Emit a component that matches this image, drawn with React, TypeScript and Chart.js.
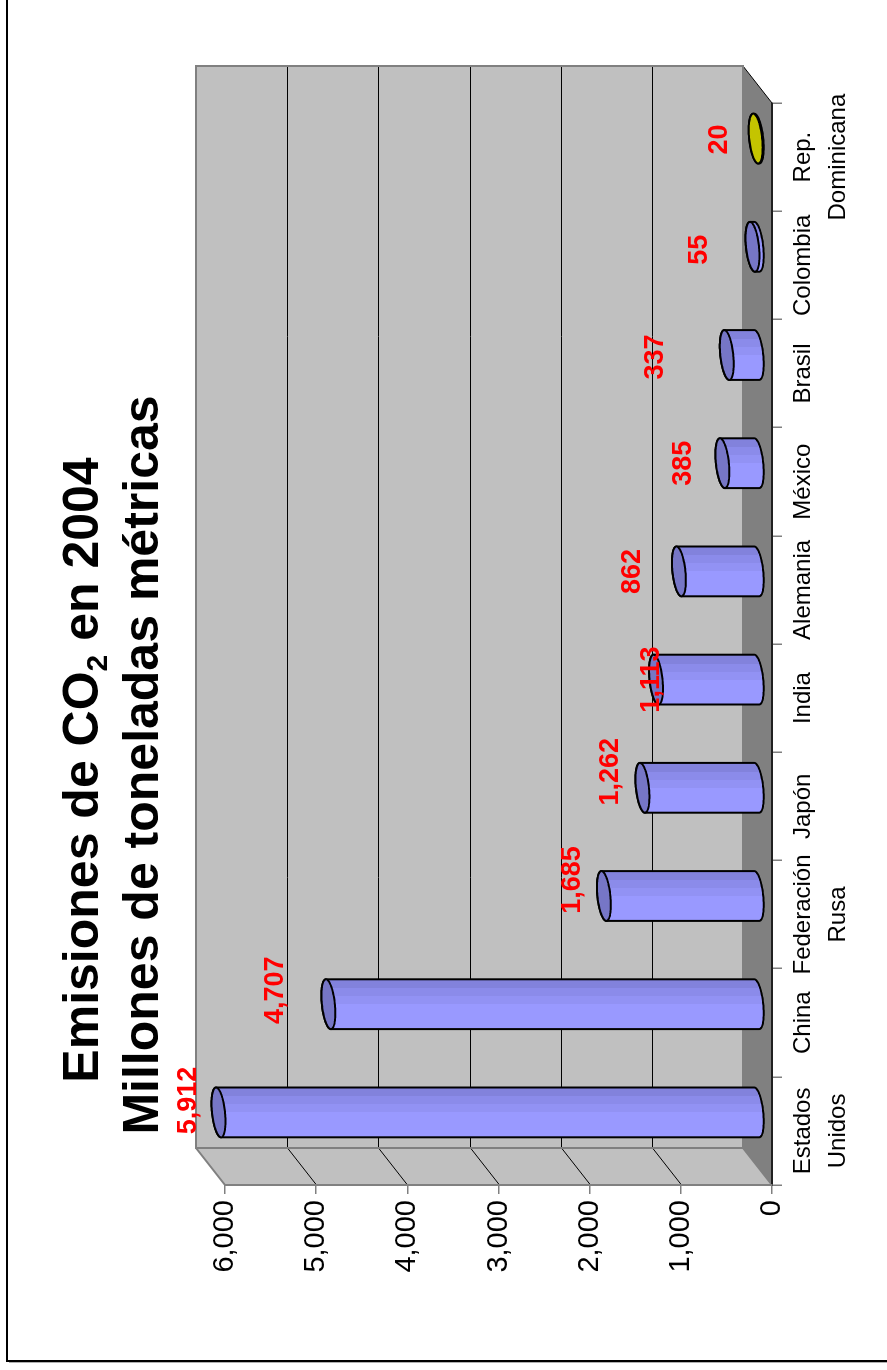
import React, { useEffect, useRef } from "react";
import { Chart, registerables } from "chart.js";

Chart.register(...registerables);

// ---------- data ----------
const categories: string[][] = [
  ["Estados", "Unidos"],
  ["China"],
  ["Federación", "Rusa"],
  ["Japón"],
  ["India"],
  ["Alemania"],
  ["México"],
  ["Brasil"],
  ["Colombia"],
  ["Rep.", "Dominicana"],
];
const emissions: number[] = [5912, 4707, 1685, 1262, 1113, 862, 385, 337, 55, 20];
const axisMin = 0;
const axisMax = 6000;
const axisStep = 1000;
const titleParts: string[] = ["Emisiones de CO", "2", " en 2004"];
const subtitle = "Millones de toneladas métricas";

// ---------- layout & style ----------
const CANVAS_W = 1370;
const CANVAS_H = 887;
const DEPTH_DU = 37; // front -> back shift (canvas x)
const DEPTH_DV = -29; // front -> back shift (canvas y)
const CYL_DEPTH = 0.48; // cylinder diameter as fraction of depth
const FONT = "Arial, 'Liberation Sans', sans-serif";
const TITLE_CX = 600;
const TITLE_SIZE = 50;
// label position offsets (px) relative to the top of each cylinder
const labelOffsets: number[][] = [
  [12, -30], [14, -53], [16, -31], [16, -32], [0, -4],
  [0, -46], [0, -39], [-2, -71], [-3, -53], [-1, -36],
];
const blueBody = ["#9999ff", "#9292f4", "#8b8bea", "#8282dc"];
const yellowBody = ["#d8d800", "#d0d000", "#c8c800", "#bcbc00"];
const barStyles = emissions.map((_, i) =>
  i === emissions.length - 1
    ? { body: yellowBody, cap: "#c4c400" }
    : { body: blueBody, cap: "#7676c6" }
);

function poly(ctx: CanvasRenderingContext2D, pts: number[][]) {
  ctx.beginPath();
  ctx.moveTo(pts[0][0], pts[0][1]);
  for (let i = 1; i < pts.length; i++) ctx.lineTo(pts[i][0], pts[i][1]);
  ctx.closePath();
}

const depthPlugin = {
  id: "depth3d",
  beforeDraw(chart: any) {
    const { ctx, chartArea: a, scales } = chart;
    const ys = scales.y;
    const top = ys.getPixelForValue(axisMax);
    const bot = ys.getPixelForValue(axisMin);
    const du = DEPTH_DU;
    const dv = DEPTH_DV;
    ctx.save();
    // outer frame (visible parts)
    ctx.strokeStyle = "#000";
    ctx.lineWidth = 2;
    ctx.beginPath();
    ctx.moveTo(9, CANVAS_H);
    ctx.lineTo(9, 7);
    ctx.lineTo(CANVAS_W, 7);
    ctx.stroke();
    ctx.strokeStyle = "#b0b0b0";
    ctx.lineWidth = 1;
    ctx.beginPath();
    ctx.moveTo(7.5, CANVAS_H);
    ctx.lineTo(7.5, 9);
    ctx.stroke();

    // floor
    ctx.fillStyle = "#808080";
    poly(ctx, [[a.left, bot], [a.right, bot], [a.right + du, bot + dv], [a.left + du, bot + dv]]);
    ctx.fill();
    // side wall
    ctx.fillStyle = "#c0c0c0";
    poly(ctx, [[a.left, top], [a.left + du, top + dv], [a.left + du, bot + dv], [a.left, bot]]);
    ctx.fill();
    // back wall
    ctx.fillRect(a.left + du, top + dv, a.right - a.left, bot - top);

    // gridlines
    ctx.strokeStyle = "#000";
    ctx.lineWidth = 1;
    for (let val = axisMin + axisStep; val < axisMax; val += axisStep) {
      const p = Math.round(ys.getPixelForValue(val)) + 0.5;
      ctx.beginPath();
      ctx.moveTo(a.left + du, p + dv);
      ctx.lineTo(a.right + du, p + dv);
      ctx.moveTo(a.left, p);
      ctx.lineTo(a.left + du, p + dv);
      ctx.stroke();
    }
    // floor right slant
    ctx.beginPath();
    ctx.moveTo(a.right, bot);
    ctx.lineTo(a.right + du, bot + dv);
    ctx.stroke();

    // wall outlines
    ctx.strokeStyle = "#808080";
    ctx.lineWidth = 2;
    ctx.strokeRect(a.left + du, top + dv, a.right - a.left, bot - top);
    ctx.beginPath();
    ctx.moveTo(a.left, top);
    ctx.lineTo(a.left + du, top + dv);
    ctx.moveTo(a.left, bot);
    ctx.lineTo(a.left + du, bot + dv);
    ctx.stroke();
    ctx.restore();
  },
  afterDatasetsDraw(chart: any) {
    const { ctx } = chart;
    const meta = chart.getDatasetMeta(0);
    const ku = (DEPTH_DU * CYL_DEPTH) / 2;
    const kv = (-DEPTH_DV * CYL_DEPTH) / 2;
    ctx.save();
    meta.data.forEach((bar: any, i: number) => {
      const cx = bar.x + DEPTH_DU / 2;
      const vt = bar.y + DEPTH_DV / 2;
      const vb = bar.base + DEPTH_DV / 2;
      const r = bar.width / 2;
      const R = Math.hypot(r, ku);
      const alpha = Math.atan2(ku, r);
      const pt = (t: number, v: number) => [cx + r * Math.cos(t) - ku * Math.sin(t), v + kv * Math.sin(t)];
      const st = barStyles[i];
      const N = 48;
      // body
      ctx.beginPath();
      let p = pt(Math.PI - alpha, vt);
      ctx.moveTo(p[0], p[1]);
      for (let k = 0; k <= N; k++) {
        const t = Math.PI - alpha - (Math.PI * k) / N;
        p = pt(t, vb);
        ctx.lineTo(p[0], p[1]);
      }
      for (let k = 0; k <= N; k++) {
        const t = -alpha - (Math.PI * k) / N;
        p = pt(t, vt);
        ctx.lineTo(p[0], p[1]);
      }
      ctx.closePath();
      const g = ctx.createLinearGradient(cx - R, 0, cx + R, 0);
      const stops = [0, 0.5, 0.66, 0.82, 1];
      for (let s = 0; s < 4; s++) {
        g.addColorStop(stops[s], st.body[s]);
        g.addColorStop(stops[s + 1], st.body[s]);
      }
      ctx.fillStyle = g;
      ctx.fill();
      ctx.strokeStyle = "#000";
      ctx.lineWidth = 2;
      ctx.lineJoin = "round";
      ctx.stroke();
      // cap
      ctx.beginPath();
      for (let k = 0; k <= 2 * N; k++) {
        const t = (Math.PI * k) / N;
        p = pt(t, vt);
        if (k === 0) ctx.moveTo(p[0], p[1]);
        else ctx.lineTo(p[0], p[1]);
      }
      ctx.closePath();
      ctx.fillStyle = st.cap;
      ctx.fill();
      ctx.stroke();
    });
    // data labels
    ctx.font = `bold 27px ${FONT}`;
    ctx.fillStyle = "#ff0000";
    ctx.textAlign = "center";
    ctx.textBaseline = "middle";
    meta.data.forEach((bar: any, i: number) => {
      const cx = bar.x + DEPTH_DU / 2;
      const vt = bar.y + DEPTH_DV / 2;
      const off = labelOffsets[i];
      ctx.fillText(emissions[i].toLocaleString("en-US"), cx + off[0], vt + off[1]);
    });
    ctx.restore();
  },
  afterDraw(chart: any) {
    const { ctx } = chart;
    ctx.save();
    ctx.fillStyle = "#000";
    ctx.textBaseline = "alphabetic";
    ctx.textAlign = "left";
    const big = `bold ${TITLE_SIZE}px ${FONT}`;
    const small = `bold ${Math.round(TITLE_SIZE * 0.6)}px ${FONT}`;
    ctx.font = big;
    const w1 = ctx.measureText(titleParts[0]).width;
    const w3 = ctx.measureText(titleParts[2]).width;
    ctx.font = small;
    const w2 = ctx.measureText(titleParts[1]).width;
    let x = TITLE_CX - (w1 + w2 + w3) / 2;
    const base1 = 98;
    ctx.font = big;
    ctx.fillText(titleParts[0], x, base1);
    x += w1;
    ctx.font = small;
    ctx.fillText(titleParts[1], x, base1 + 9);
    x += w2;
    ctx.font = big;
    ctx.fillText(titleParts[2], x, base1);
    ctx.textAlign = "center";
    ctx.fillText(subtitle, TITLE_CX + 5, 158);
    ctx.restore();
  },
};

export default function App() {
  const ref = useRef<HTMLCanvasElement>(null);
  useEffect(() => {
    const canvas = ref.current;
    if (!canvas) return;
    const chart = new Chart(canvas, {
      type: "bar",
      data: {
        labels: categories,
        datasets: [
          {
            data: emissions,
            backgroundColor: "rgba(0,0,0,0)",
            borderWidth: 0,
            barPercentage: 0.43,
            categoryPercentage: 1,
          },
        ],
      },
      options: {
        responsive: false,
        animation: false,
        devicePixelRatio: 1,
        locale: "en-US",
        layout: { padding: { top: 225, right: 103, bottom: 0, left: 0 } },
        plugins: {
          legend: { display: false },
          title: { display: false },
          tooltip: { enabled: false },
        },
        scales: {
          x: {
            grid: {
              offset: true,
              drawOnChartArea: false,
              drawTicks: true,
              tickLength: 10,
              color: "#808080",
              lineWidth: 1.5,
            },
            border: { display: true, color: "#202020", width: 2 },
            ticks: {
              font: { size: 24, family: FONT, lineHeight: 35 / 24 },
              color: "#000",
              padding: 4,
              maxRotation: 0,
              minRotation: 0,
              autoSkip: false,
            },
            afterFit: (s: any) => {
              s.height = 115;
            },
          },
          y: {
            min: axisMin,
            max: axisMax,
            ticks: {
              stepSize: axisStep,
              font: { size: 29, family: FONT },
              color: "#000",
              padding: 6,
            },
            grid: {
              drawOnChartArea: false,
              tickLength: 9,
              color: "#808080",
              lineWidth: 1.5,
            },
            border: { display: true, color: "#808080", width: 2 },
            afterFit: (s: any) => {
              s.width = 185;
            },
          },
        },
      },
      plugins: [depthPlugin],
    } as any);
    return () => chart.destroy();
  }, []);
  return (
    <div
      style={{
        position: "absolute",
        left: 0,
        top: 0,
        width: 887,
        height: 1370,
        overflow: "hidden",
        background: "#fff",
      }}
    >
      <canvas
        ref={ref}
        width={CANVAS_W}
        height={CANVAS_H}
        style={{
          position: "absolute",
          left: 0,
          top: 0,
          width: CANVAS_W,
          height: CANVAS_H,
          transformOrigin: "0 0",
          transform: `translate(0px, ${CANVAS_W}px) rotate(-90deg)`,
        }}
      />
    </div>
  );
}
